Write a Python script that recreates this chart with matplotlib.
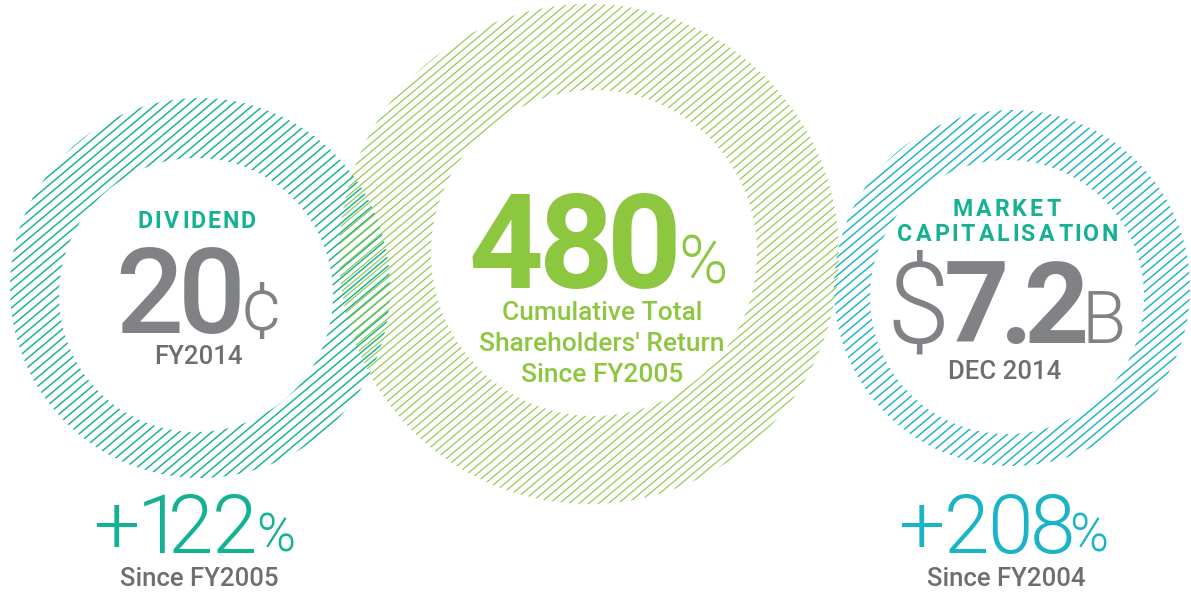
import numpy as np
import matplotlib
matplotlib.use('Agg')
import matplotlib.pyplot as plt
from matplotlib.collections import LineCollection
from matplotlib.path import Path
from matplotlib.patches import PathPatch
from matplotlib.textpath import TextPath
from matplotlib.font_manager import FontProperties

plt.rcParams['font.family'] = ['Roboto', 'DejaVu Sans']

# headline figures
tsr_pct = 480
dividend_cents = 20
dividend_growth_pct = 122
market_cap_bn = 7.2
market_cap_growth_pct = 208

dividend_title = 'DIVIDEND'
dividend_period = 'FY2014'
dividend_since = 'Since FY2005'
tsr_caption = ['Cumulative Total', "Shareholders' Return", 'Since FY2005']
cap_title = ['MARKET', 'CAPITALISATION']
cap_period = 'DEC 2014'
cap_since = 'Since FY2004'

TEAL = '#14b292'
CYAN = '#1ab4c6'
GREEN = '#8dc63f'
GREY = '#808285'
DARK = '#6d6e71'
LIGHT = 300

W, H = 1191, 593
fig = plt.figure(figsize=(W / 100, H / 100), dpi=100)
ax = fig.add_axes([0, 0, 1, 1])
ax.set_xlim(0, W)
ax.set_ylim(H, 0)
ax.axis('off')


def hatched_ring(outer, inner, color, gap, lw, angle=40):
    ox, oy, R = outer
    ix, iy, r = inner
    t = np.linspace(0, 2 * np.pi, 361)
    ring_out = np.column_stack([ox + R * np.cos(t), oy + R * np.sin(t)])
    ring_in = np.column_stack([ix + r * np.cos(t[::-1]), iy + r * np.sin(t[::-1])])
    codes = [Path.MOVETO] + [Path.LINETO] * (len(t) - 2) + [Path.CLOSEPOLY]
    path = Path(np.vstack([ring_out, ring_in]), codes * 2)
    clip = PathPatch(path, transform=ax.transData, facecolor='none', edgecolor='none')
    ax.add_patch(clip)

    a = np.radians(angle)
    d = np.array([np.cos(a), -np.sin(a)])   # stroke direction, rising to the right
    n = np.array([np.sin(a), np.cos(a)])
    segs = []
    for o in np.arange(-R, R + gap, gap):
        c = np.array([ox, oy]) + o * n
        segs.append([c - R * d, c + R * d])
    lc = LineCollection(segs, colors=color, linewidths=lw, capstyle='butt')
    ax.add_collection(lc)
    lc.set_clip_path(clip)


def ink(ch, fontsize, fontweight):
    # left bearing and ink width of one glyph, in pixels
    fp = FontProperties(family='Roboto', weight=fontweight)
    ext = TextPath((0, 0), ch, size=fontsize * 100 / 72, prop=fp).get_extents()
    return ext.x0, ext.x1 - ext.x0


def spaced(x, y, s, gap, anchor='center', fontsize=12, fontweight='normal', color='k'):
    # glyph by glyph with a fixed ink gap; returns right ink edge
    glyphs = [ink(ch, fontsize, fontweight) for ch in s]
    total = sum(w for _, w in glyphs) + gap * (len(s) - 1)
    if anchor == 'center':
        x -= total / 2
    elif anchor == 'right':
        x -= total
    for ch, (lsb, w) in zip(s, glyphs):
        ax.text(x - lsb, y, ch, ha='left', va='baseline', fontsize=fontsize,
                fontweight=fontweight, color=color)
        x += w + gap
    return x - gap


# rings: (cx, cy, radius) for outer and inner edge
hatched_ring((200, 288, 190), (196, 295, 137), TEAL, gap=7.0, lw=1.05)
hatched_ring((1012, 288, 178), (1007, 297, 137), CYAN, gap=7.0, lw=1.05)
hatched_ring((589, 254, 250), (594, 253, 163), GREEN, gap=6.3, lw=0.8)

caps = dict(fontsize=16.7, fontweight='bold', color=TEAL)
small = dict(fontsize=18.5, fontweight='medium', color=DARK)

# dividend
spaced(197, 228, dividend_title, 4.5, **caps)
spaced(120, 333, f'{dividend_cents}', 5, anchor='left',
       fontsize=86, fontweight='medium', color=GREY)
spaced(245, 330, '¢', 0, anchor='left', fontsize=54, fontweight=LIGHT, color=GREY)
ax.text(198, 364, dividend_period, ha='center', va='baseline', **small)

spaced(97, 553, f'+{dividend_growth_pct}', 7, anchor='left',
       fontsize=59, fontweight=LIGHT, color=TEAL)
spaced(259, 552, '%', 0, anchor='left', fontsize=38, fontweight=LIGHT, color=TEAL)
ax.text(199, 586, dividend_since, ha='center', va='baseline', **small)

# total shareholders' return
spaced(472, 288, f'{tsr_pct}', 5, anchor='left', fontsize=94, fontweight='bold', color=GREEN)
spaced(682, 283, '%', 0, anchor='left', fontsize=48, fontweight=LIGHT, color=GREEN)
for i, line in enumerate(tsr_caption):
    ax.text(602, 320 + 31 * i, line, ha='center', va='baseline', fontsize=19,
            fontweight='medium', color=GREEN)

# market capitalisation
spaced(1007, 216, cap_title[0], 4.5, **caps)
spaced(1007, 241, cap_title[1], 4.5, **caps)
spaced(893, 343, '$', 0, anchor='left', fontsize=82, fontweight=LIGHT, color=GREY)
spaced(947, 343, f'{market_cap_bn}', 3, anchor='left', fontsize=82, fontweight='bold', color=GREY)
spaced(1088, 343, 'B', 0, anchor='left', fontsize=52, fontweight=LIGHT, color=GREY)
ax.text(1005, 379, cap_period, ha='center', va='baseline', **small)

spaced(902, 553, f'+{market_cap_growth_pct}', 6, anchor='left',
       fontsize=59, fontweight=LIGHT, color=CYAN)
spaced(1072, 552, '%', 0, anchor='left', fontsize=38, fontweight=LIGHT, color=CYAN)
ax.text(1006, 586, cap_since, ha='center', va='baseline', **small)

fig.savefig('out.png', dpi=100, facecolor='white')
